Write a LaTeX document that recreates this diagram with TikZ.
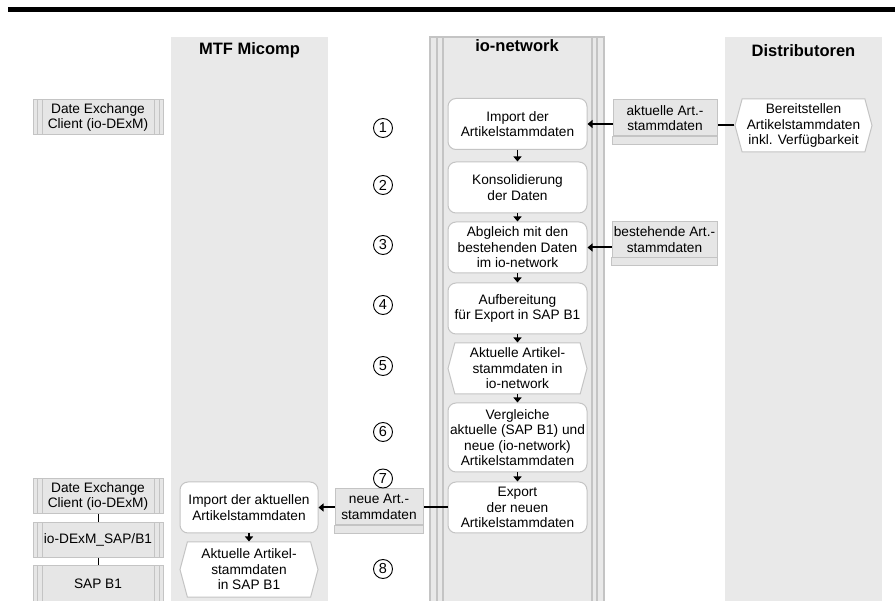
\documentclass[tikz,border=0pt]{standalone}
\usepackage{fontspec}
\setmainfont{Liberation Sans}
\usetikzlibrary{arrows.meta,shapes.symbols}

\definecolor{lanegray}{HTML}{E9E9E9}
\definecolor{linegray}{HTML}{C4C4C4}
\definecolor{docgray}{HTML}{E6E6E6}

\tikzset{
  boxfont/.style={font=\fontsize{13.7pt}{15.5pt}\selectfont},
  lanehead/.style={font=\fontsize{16.5pt}{18pt}\selectfont\bfseries, anchor=base},
  procbox/.style={boxfont, draw=linegray, fill=white, line width=1pt, rounded corners=8pt,
    minimum width=139pt, minimum height=51pt, align=center, inner sep=1pt},
  hexbox/.style={boxfont, signal, signal to=west and east, signal pointer angle=150,
    draw=linegray, fill=white, line width=1pt, minimum width=139pt, minimum height=51pt,
    align=center, inner sep=1pt},
  docbox/.style={boxfont, draw=linegray, fill=docgray, line width=1pt, align=center,
    inner sep=1pt, minimum height=36pt,
    append after command={\pgfextra{\draw[linegray, fill=docgray, line width=1pt]
      (\tikzlastnode.south west) rectangle ([yshift=-8pt]\tikzlastnode.south east);}}},
  sysbox/.style={boxfont, draw=linegray, fill=docgray, line width=1pt, align=center,
    minimum width=130pt, minimum height=35pt, inner sep=1pt,
    path picture={
      \foreach \dx in {4pt,9pt}{
        \draw[linegray, line width=1pt]
          ([xshift=\dx]path picture bounding box.south west) -- ([xshift=\dx]path picture bounding box.north west);
        \draw[linegray, line width=1pt]
          ([xshift=-\dx]path picture bounding box.south east) -- ([xshift=-\dx]path picture bounding box.north east);
      }}},
  stepnum/.style={circle, draw, line width=0.9pt, minimum size=19pt, inner sep=0pt,
    font=\fontsize{14.5pt}{14.5pt}\selectfont},
  flow/.style={-{Triangle[width=8pt,length=5pt]}, line width=2pt},
  downflow/.style={-{Triangle[width=8pt,length=5pt]}, line width=1.5pt},
  link/.style={line width=2pt},
  stack/.style={line width=1pt}
}

\begin{document}
\begin{tikzpicture}[x=1pt, y=-1pt]
  \useasboundingbox (0,0) rectangle (895,601);

  % title bar
  \fill (8,7) rectangle (895,12);

  % swimlanes
  \fill[lanegray] (171,37) rectangle (328,601);
  \fill[lanegray] (725,37) rectangle (882,601);
  \draw[linegray, fill=lanegray, line width=1.2pt] (430,37) rectangle (604,602);
  \foreach \sx in {437,443,592,597}
    \draw[linegray, line width=1.2pt] (\sx,37) -- (\sx,602);

  \node[lanehead] (mtfhead) at (249.5,55) {MTF Micomp};
  \node[lanehead] (iohead) at (517,52) {io-network};
  \node[lanehead] (disthead) at (803.5,57) {Distributoren};

  % systems
  \node[sysbox] (dexm) at (98,117.5) {Date Exchange\\Client (io-DExM)};
  \node[sysbox] (dexm2) at (98,496.5) {Date Exchange\\Client (io-DExM)};
  \node[sysbox] (dexsap) at (98,540) {io-DExM\_SAP/B1};
  \node[sysbox] (sap) at (98,583.5) {SAP B1};
  \draw[stack] (dexm2.south) -- (dexsap.north);
  \draw[stack] (dexsap.south) -- (sap.north);

  % MTF Micomp process
  \node[procbox, minimum width=138pt] (impsap) at (249,507.5) {Import der aktuellen\\Artikelstammdaten};
  \node[hexbox, minimum width=138pt, minimum height=55pt] (aktsap) at (249,569.5) {Aktuelle Artikel-\\stammdaten\\in SAP B1};
  \draw[downflow] (impsap.south) -- (aktsap.north);

  % io-network process
  \node[procbox] (imp) at (517.5,124) {Import der\\Artikelstammdaten};
  \node[procbox] (kons) at (517.5,187.5) {Konsolidierung\\der Daten};
  \node[procbox] (abgl) at (517.5,247.5) {Abgleich mit den\\bestehenden Daten\\im io-network};
  \node[procbox] (aufb) at (517.5,308.5) {Aufbereitung\\für Export in SAP B1};
  \node[hexbox] (aktio) at (517.5,368.5) {Aktuelle Artikel-\\stammdaten in\\io-network};
  \node[procbox, minimum height=69pt] (vergl) at (517.5,437.5) {Vergleiche\\aktuelle (SAP B1) und\\neue (io-network)\\Artikelstammdaten};
  \node[procbox] (export) at (517.5,507.5) {Export\\der neuen\\Artikelstammdaten};

  \draw[downflow] (imp.south) -- (kons.north);
  \draw[downflow] (kons.south) -- (abgl.north);
  \draw[downflow] (abgl.south) -- (aufb.north);
  \draw[downflow] (aufb.south) -- (aktio.north);
  \draw[downflow] (aktio.south) -- (vergl.north);
  \draw[downflow] (vergl.south) -- (export.north);

  % Distributoren
  \node[hexbox, minimum width=137pt, minimum height=53pt] (bereit) at (803.5,125.5) {Bereitstellen\\Artikelstammdaten\\inkl. Verfügbarkeit};

  % data objects
  \node[docbox, minimum width=104pt] (aktdoc) at (665,118) {aktuelle Art.-\\stammdaten};
  \node[docbox, minimum width=105pt] (bestdoc) at (664.5,239.5) {bestehende Art.-\\stammdaten};
  \node[docbox, minimum width=88pt] (neudoc) at (379,507) {neue Art.-\\stammdaten};

  \draw[link] (bereit.west) -- (bereit.west -| aktdoc.east);
  \draw[flow] (aktdoc.west |- imp.east) -- (imp.east);
  \draw[flow] (bestdoc.west |- abgl.east) -- (abgl.east);
  \draw[link] (export.west) -- (export.west -| neudoc.east);
  \draw[flow] (neudoc.west |- impsap.east) -- (impsap.east);

  % steps
  \node[stepnum] (n1) at (383,128) {1};
  \node[stepnum] (n2) at (383,185) {2};
  \node[stepnum] (n3) at (383,245) {3};
  \node[stepnum] (n4) at (383,305) {4};
  \node[stepnum] (n5) at (383,366) {5};
  \node[stepnum] (n6) at (383,432) {6};
  \node[stepnum] (n7) at (383,478.5) {7};
  \node[stepnum] (n8) at (383,569) {8};
\end{tikzpicture}
\end{document}
